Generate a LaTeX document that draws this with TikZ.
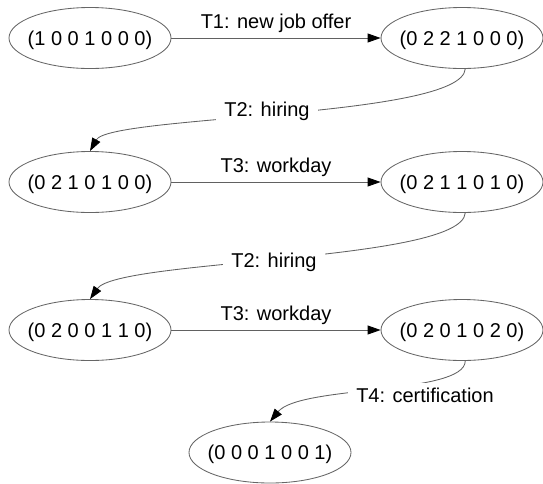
\documentclass[tikz,border=0pt]{standalone}
\usepackage{fontspec}
\setmainfont{Liberation Sans}
\usetikzlibrary{shapes.geometric,arrows.meta}
\begin{document}
\begin{tikzpicture}[x=1pt,y=-1pt,
  lbl/.style={font=\fontsize{20pt}{24pt}\selectfont},
  state/.style={ellipse, draw=black!60, line width=0.85pt, minimum width=162pt,
    minimum height=61pt, inner sep=0pt, text height=14.3pt, text depth=0pt, lbl},
  edge/.style={draw=black!62, line width=0.85pt},
  arr/.style={edge, -{Triangle[length=13pt,width=9pt,color=black]}},
  hlabel/.style={lbl, anchor=base, yshift=9.7pt, inner sep=0pt},
  clabel/.style={lbl, fill=white, anchor=base, inner xsep=8pt, inner ysep=5pt,
    text height=15pt, text depth=3pt}]
\useasboundingbox (0,0) rectangle (543,483);

\node[state] (n1) at (90,38)    {\makebox[0pt]{(1 0 0 1 0 0 0)}};
\node[state] (n2) at (462,38)   {\makebox[0pt]{(0 2 2 1 0 0 0)}};
\node[state] (n3) at (90,182)   {\makebox[0pt]{(0 2 1 0 1 0 0)}};
\node[state] (n4) at (462,182)  {\makebox[0pt]{(0 2 1 1 0 1 0)}};
\node[state] (n5) at (90,330)   {\makebox[0pt]{(0 2 0 0 1 1 0)}};
\node[state] (n6) at (462,330)  {\makebox[0pt]{(0 2 0 1 0 2 0)}};
\node[state] (n7) at (270,452.5){\makebox[0pt]{(0 0 0 1 0 0 1)}};

\draw[arr] (n1) -- (n2) node[hlabel, midway] (t1) {T1: new job offer};
\draw[arr] (n3) -- (n4) node[hlabel, midway] (t3a) {T3: workday};
\draw[arr] (n5) -- (n6) node[hlabel, midway] (t3b) {T3: workday};

\draw[arr] (n2.-84) .. controls (462,118) and (110,115) .. (n3.north);
\node[clabel] (t2a) at (267,116) {T2: hiring};

\draw[arr] (n4.-84) .. controls (462,262) and (118,259) .. (n5.north);
\node[clabel] (t2b) at (274,267.7) {T2: hiring};

\draw[arr] (n6.-84) .. controls (465,395) and (300,385) .. (n7.north);
\node[clabel] (t4) at (425,402.7) {T4: certification};
\end{tikzpicture}
\end{document}
